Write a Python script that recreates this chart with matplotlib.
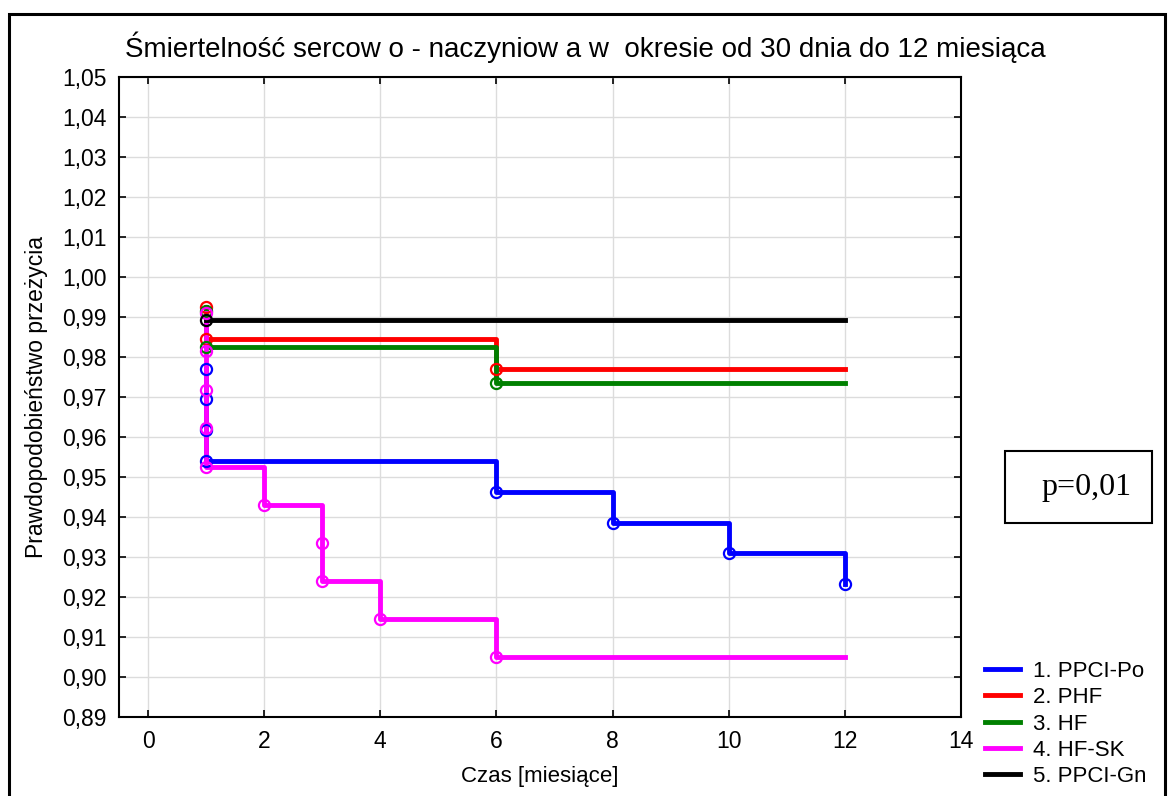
import matplotlib.pyplot as plt
import matplotlib.patches as patches
import numpy as np

plt.rcParams['font.family'] = ['Liberation Sans', 'DejaVu Sans']

# survival data: drop times and survival after the drop
labels = ['1. PPCI-Po', '2. PHF', '3. HF', '4. HF-SK', '5. PPCI-Gn']
colors = ['#0000ff', '#ff0000', '#008000', '#ff00ff', '#000000']

t_po = [1, 1, 1, 1, 6, 8, 10, 12]
s_po = [0.9770, 0.9694, 0.9617, 0.9540, 0.9463, 0.9386, 0.9310, 0.9233]

t_phf = [1, 1, 6, 12]
s_phf = [0.9925, 0.9846, 0.9769, 0.9769]

t_hf = [1, 1, 6, 12]
s_hf = [0.9915, 0.9825, 0.9736, 0.9736]

t_sk = [1, 1, 1, 1, 1, 2, 3, 3, 4, 6, 12]
s_sk = [0.9910, 0.9815, 0.9718, 0.9622, 0.9525, 0.9430, 0.9336, 0.9241, 0.9145, 0.9050, 0.9050]

t_gn = [1, 12]
s_gn = [0.9893, 0.9893]

# how many points at the end are only line ends, not events
n_end = [0, 1, 1, 1, 1]

xticks = [0, 2, 4, 6, 8, 10, 12, 14]
yticks = [0.89, 0.90, 0.91, 0.92, 0.93, 0.94, 0.95, 0.96, 0.97, 0.98, 0.99,
          1.00, 1.01, 1.02, 1.03, 1.04, 1.05]
ytick_labels = [f'{v:.2f}'.replace('.', ',') for v in yticks]

fig = plt.figure(figsize=(11.68, 7.96), dpi=100)
ax = fig.add_axes([119/1168, 1 - 717/796, (961-119)/1168, (717-77)/796])

series = [(t_po, s_po), (t_phf, s_phf), (t_hf, s_hf), (t_sk, s_sk), (t_gn, s_gn)]
for (t, s), c, lab, ne in zip(series, colors, labels, n_end):
    ax.step(t, s, where='post', color=c, lw=3.5, label=lab, zorder=3)
    k = len(t) - ne
    ax.plot(t[:k], s[:k], 'o', mfc='none', mec=c, ms=8, mew=1.6, zorder=4)

ax.set_xlim(-0.5, 14)
ax.set_ylim(0.89, 1.05)
ax.set_xticks(xticks)
ax.set_yticks(yticks)
ax.set_yticklabels(ytick_labels)
ax.grid(True, color='#dcdcdc', lw=1)
ax.set_axisbelow(True)
ax.tick_params(direction='in', length=5, width=1.2, top=True, right=True,
               labelsize=16.5, colors='k', pad=9)
for sp in ax.spines.values():
    sp.set_linewidth(1.5)

ax.set_xlabel('Czas [miesiące]', fontsize=16, labelpad=10)
ax.set_ylabel('Prawdopodobieństwo przeżycia', fontsize=16.5, labelpad=10)
fig.text(585/1168, 1 - 47/796,
         'Śmiertelność sercow o - naczyniow a w  okresie od 30 dnia do 12 miesiąca',
         fontsize=20, ha='center', va='center')

ax.legend(loc='upper left', bbox_to_anchor=(976/1168, 1 - 652/796),
          bbox_transform=fig.transFigure, frameon=False, fontsize=16,
          handlelength=1.6, handletextpad=0.55, labelspacing=0.24, borderaxespad=0)

# p-value box
fig.patches.append(patches.Rectangle((1005/1168, 1 - 523/796), 147/1168, 72/796,
                                     transform=fig.transFigure, fill=False,
                                     ec='k', lw=1.5))
fig.text(1086/1168, 1 - 487/796, 'p=0,01', family='Liberation Serif',
         fontsize=23, ha='center', va='center')

# outer frame
fig.patches.append(patches.Rectangle((9/1168, -0.02), 1156/1168, 1.02 - 14/796,
                                     transform=fig.transFigure, fill=False,
                                     ec='k', lw=2.2, clip_on=False))

fig.savefig('out.png', dpi=100)
